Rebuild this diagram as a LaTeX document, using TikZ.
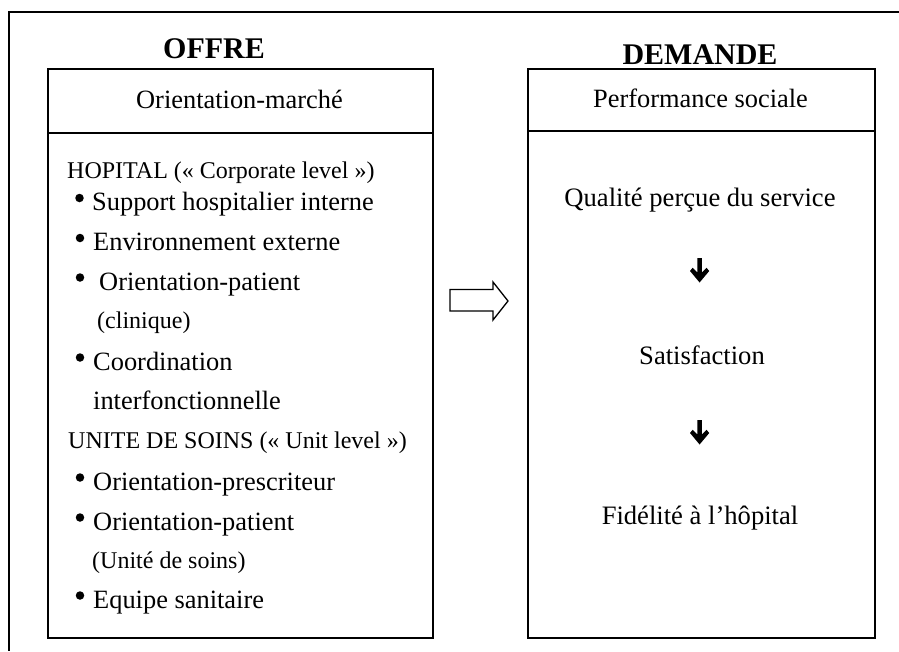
\documentclass[tikz,border=0pt]{standalone}
\usepackage{fontspec}
\setmainfont{Liberation Serif}
\tikzset{
  frame/.style={line width=1.6pt},
  boxline/.style={line width=1.6pt},
  title/.style={anchor=base, inner sep=0pt, font=\fontsize{30}{34}\selectfont\bfseries},
  head/.style={anchor=base, inner sep=0pt, font=\fontsize{26.4}{30}\selectfont},
  item/.style={anchor=base west, inner sep=0pt, font=\fontsize{26.4}{30}\selectfont},
  small/.style={anchor=base west, inner sep=0pt, font=\fontsize{24}{28}\selectfont},
  ctext/.style={anchor=base, inner sep=0pt, font=\fontsize{26.6}{30}\selectfont},
  bul/.style={circle, fill=black, inner sep=0pt, minimum size=8.5pt},
}
\begin{document}
\begin{tikzpicture}[x=1pt,y=-1pt]
\useasboundingbox (0,0) rectangle (899,651);
% outer frame (cropped)
\draw[frame] (899,12) -- (9,12) -- (9,651);
% titles
\node[title] (offre) at (214,58) {OFFRE};
\node[title] (demande) at (700,64) {DEMANDE};
% left box
\node[draw, boxline, minimum width=385pt, minimum height=569pt, anchor=north west, inner sep=0pt] (lbox) at (47,68) {};
\draw[boxline] (47,133) coordinate (ld1) -- (432,133) coordinate (ld2);
\node[head] (om) at (239.5,108) {Orientation-marché};
% right box
\node[draw, boxline, minimum width=347pt, minimum height=569pt, anchor=north west, inner sep=0pt] (rbox) at (527,68) {};
\draw[boxline] (527,131) coordinate (rd1) -- (874,131) coordinate (rd2);
\node[head] (ps) at (700.5,107) {Performance sociale};
% left list
\node[small] (hop) at (67,178) {HOPITAL (« Corporate level »)};
\node[bul] (b1) at (79.5,198) {};
\node[item] (i1) at (92,210) {Support hospitalier interne};
\node[bul] (b2) at (80,238) {};
\node[item] (i2) at (93,250) {Environnement externe};
\node[bul] (b3) at (80,277.5) {};
\node[item] (i3) at (99,290) {Orientation-patient};
\node[small] (i3b) at (97,328) {(clinique)};
\node[bul] (b4) at (80,357.5) {};
\node[item] (i4) at (93,370) {Coordination};
\node[item] (i4b) at (93,409) {interfonctionnelle};
\node[small] (uni) at (68,448) {UNITE DE SOINS (« Unit level »)};
\node[bul] (b5) at (80,477.5) {};
\node[item] (i5) at (93,490) {Orientation-prescriteur};
\node[bul] (b6) at (80,517.5) {};
\node[item] (i6) at (93,530) {Orientation-patient};
\node[small] (i6b) at (92,568) {(Unité de soins)};
\node[bul] (b7) at (80,595.5) {};
\node[item] (i7) at (93,608) {Equipe sanitaire};
% right column
\node[ctext] (q) at (700,206) {Qualité perçue du service};
\node[ctext] (s) at (702,364) {Satisfaction};
\node[ctext] (f) at (700,524) {Fidélité à l’hôpital};
% small bold down arrows
\foreach \dy/\nm in {0/a1,162/a2}{
  \fill[shift={(0,\dy)}] (697.3,258) -- (701.9,258) -- (701.9,272.5) -- (706.6,267.8) -- (709.2,271) -- (699.6,282.5) -- (690,271) -- (692.6,267.8) -- (697.3,272.5) -- cycle;
}
% hollow block arrow between boxes
\draw[line width=1.3pt, line join=miter] (450,289.5) -- (493,289.5) -- (493,282) -- (508,301) -- (493,320) -- (493,311) -- (450,311) -- cycle;
\end{tikzpicture}
\end{document}
